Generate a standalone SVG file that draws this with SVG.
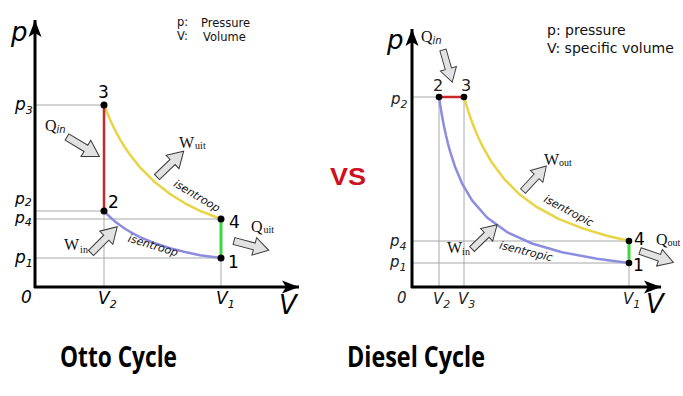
<svg xmlns="http://www.w3.org/2000/svg" xmlns:xlink="http://www.w3.org/1999/xlink" width="683" height="396" viewBox="0 0 683 396">
<style>
.ax{stroke:#000;stroke-width:3;fill:none}
.grid{stroke:#a8a8a8;stroke-width:1;fill:none}
.red{stroke:#c8282a;stroke-width:2.5;fill:none}
.grn{stroke:#3ed83e;stroke-width:3;fill:none}
.yel{stroke:#e8d444;stroke-width:2.5;fill:none;stroke-linejoin:round}
.blu{stroke:#8c8ce0;stroke-width:2.5;fill:none;stroke-linejoin:round}
.dot{fill:#000}
.big{font-family:"DejaVu Sans",sans-serif;font-style:italic;font-size:26px;fill:#000}
.tk{font-family:"DejaVu Sans",sans-serif;font-style:italic;font-size:17px;fill:#000}
.tks{font-family:"DejaVu Sans",sans-serif;font-style:italic;font-size:15.5px;fill:#000}
.tkd{font-family:"DejaVu Sans",sans-serif;font-style:italic;font-size:15px;fill:#222}
.sub{font-size:11px}
.num{font-family:"DejaVu Sans",sans-serif;font-size:17px;fill:#000}
.numd{font-family:"DejaVu Sans",sans-serif;font-size:16px;fill:#222}
.wq{font-family:"Liberation Serif",serif;font-size:16px;fill:#111}
.ws{font-family:"Liberation Serif",serif;font-size:10px}
.wsi{font-family:"DejaVu Sans",sans-serif;font-style:italic;font-size:10px}
.ise{font-family:"DejaVu Sans",sans-serif;font-style:italic;font-size:11px;fill:#111}
.leg{font-family:"DejaVu Sans",sans-serif;font-size:11.5px;fill:#111}
.legd{font-family:"DejaVu Sans",sans-serif;font-size:14px;fill:#111}
.title{font-family:"Open Sans","Liberation Sans",sans-serif;font-weight:bold;font-size:29px;fill:#000}
.vs{font-family:"Liberation Sans",sans-serif;font-weight:bold;font-size:23px;fill:#d01020}
.harr{fill:#e2e2e2;stroke:#3a3a3a;stroke-width:1;stroke-linejoin:miter}
</style>
<defs>
<marker id="axh" markerUnits="userSpaceOnUse" markerWidth="20" markerHeight="16" viewBox="-18 -8 20 16" refX="0" refY="0" orient="auto">
<path d="M0,0 L-17,-6.5 L-13,0 L-17,6.5 Z" fill="#000"/>
</marker>
<path id="harrow" d="M0,-3.5 H21 V-9 L36,0 L21,9 V3.5 H0 Z"/>
</defs>
<rect width="683" height="396" fill="#fff"/>

<g id="otto">
<g id="otto-grid">
<path class="grid" d="M35,105H104 M35,211H104 M35,219H221 M35,258H221 M104,211V287 M221,258V287"/>
</g>
<g id="otto-curves">
<polyline class="yel" points="104,105 107,112.6 111,121.8 115,130 120,139.3 125,147.5 130,154.8 140,167.4 155,182.3 170,194 185,203.3 200,210.9 221,219"/>
<polyline class="blu" points="104,211 107,214.2 111,218 115,221.4 120,225.3 125,228.7 130,231.8 140,237.1 155,243.3 170,248.2 185,252 200,255.2 221,258"/>
<line class="red" x1="104" y1="105" x2="104" y2="211"/>
<line class="grn" x1="221" y1="219" x2="221" y2="258"/>
</g>
<g id="otto-axes">
<line class="ax" x1="35" y1="288" x2="35" y2="20" marker-end="url(#axh)"/>
<line class="ax" x1="34" y1="287" x2="299" y2="287" marker-end="url(#axh)"/>
</g>
<g id="otto-points">
<circle class="dot" cx="104" cy="105" r="3.5"/>
<circle class="dot" cx="104" cy="211" r="3.5"/>
<circle class="dot" cx="221" cy="219" r="3.5"/>
<circle class="dot" cx="221" cy="258" r="3.5"/>
</g>
<g id="otto-arrows">
<use xlink:href="#harrow" class="harr" transform="translate(67,137) rotate(31) scale(1.05)"/>
<use xlink:href="#harrow" class="harr" transform="translate(157,177) rotate(-44) scale(1.03)"/>
<use xlink:href="#harrow" class="harr" transform="translate(91,253) rotate(-45) scale(1.03)"/>
<use xlink:href="#harrow" class="harr" transform="translate(234,241) rotate(15) scale(1)"/>
</g>
<g id="otto-labels">
<text class="big" x="11" y="41">p</text>
<text class="tk" x="15" y="110">p<tspan class="sub" dy="4">3</tspan></text>
<text class="tks" x="15" y="204">p<tspan class="sub" dy="2">2</tspan></text>
<text class="tks" x="15" y="223">p<tspan class="sub" dy="3">4</tspan></text>
<text class="tk" x="15" y="263">p<tspan class="sub" dy="4">1</tspan></text>
<text class="tk" x="21" y="303">0</text>
<text class="tk" x="98" y="304">V<tspan class="sub" dy="4">2</tspan></text>
<text class="tk" x="216" y="304">V<tspan class="sub" dy="4">1</tspan></text>
<text class="big" x="279" y="314">V</text>
<text class="num" x="98" y="98">3</text>
<text class="num" x="108" y="208">2</text>
<text class="num" x="229" y="228">4</text>
<text class="num" x="228" y="268">1</text>
<text class="wq" x="45" y="131">Q<tspan class="wsi" dy="2">in</tspan></text>
<text class="wq" x="179" y="148">W<tspan class="ws" dx="1" dy="1">uit</tspan></text>
<text class="wq" x="64" y="250">W<tspan class="ws" dx="1" dy="3">in</tspan></text>
<text class="wq" x="251" y="232">Q<tspan class="ws" dx="1" dy="1">uit</tspan></text>
<text class="ise" transform="translate(195,199) rotate(31)" text-anchor="middle">isentroop</text>
<text class="ise" transform="translate(152,249) rotate(17)" text-anchor="middle">isentroop</text>
<text class="leg" x="177" y="26">p:</text>
<text class="leg" x="201" y="27">Pressure</text>
<text class="leg" x="177" y="40">V:</text>
<text class="leg" x="203" y="41">Volume</text>
</g>
</g>

<g id="versus">
<text class="vs" x="330" y="185" textLength="36" lengthAdjust="spacingAndGlyphs">VS</text>
</g>

<g id="diesel">
<g id="diesel-grid">
<path class="grid" d="M412,97H439 M412,241H629 M412,263H629 M439,97V287 M464,97V287 M629,263V287"/>
</g>
<g id="diesel-curves">
<polyline class="blu" points="439,97 440.5,106.8 442,115.7 444,126.2 446,135.5 448,143.8 450,151.2 455,166.7 462,183.3 472,200.4 487,217.5 507,232.1 532,243.5 562,252.2 597,258.8 629,263"/>
<polyline class="yel" points="464,97 466,103.9 468,110.4 471,119.3 474,127.3 478,136.8 482,145.3 492,162.8 504,178.8 519,193.9 537,207.2 559,219.1 584,228.9 607,235.8 629,241"/>
<line class="red" x1="439" y1="97" x2="464" y2="97"/>
<line class="grn" x1="629" y1="241" x2="629" y2="263"/>
</g>
<g id="diesel-axes">
<line class="ax" x1="412" y1="288" x2="412" y2="29" marker-end="url(#axh)"/>
<line class="ax" x1="411" y1="287" x2="661" y2="287" marker-end="url(#axh)"/>
</g>
<g id="diesel-points">
<circle class="dot" cx="439" cy="97" r="3.3"/>
<circle class="dot" cx="464" cy="97" r="3.3"/>
<circle class="dot" cx="629" cy="241" r="3.3"/>
<circle class="dot" cx="629" cy="263" r="3.3"/>
</g>
<g id="diesel-arrows">
<use xlink:href="#harrow" class="harr" transform="translate(443,50) rotate(74) scale(0.93)"/>
<use xlink:href="#harrow" class="harr" transform="translate(523,191) rotate(-47) scale(0.95)"/>
<use xlink:href="#harrow" class="harr" transform="translate(472,249) rotate(-44) scale(0.97)"/>
<use xlink:href="#harrow" class="harr" transform="translate(640,251) rotate(19) scale(0.98)"/>
</g>
<g id="diesel-labels">
<text class="big" x="387" y="49">p</text>
<text class="tkd" x="391" y="104">p<tspan class="sub" dy="4">2</tspan></text>
<text class="tkd" x="390" y="246">p<tspan class="sub" dy="4">4</tspan></text>
<text class="tkd" x="390" y="267">p<tspan class="sub" dy="4">1</tspan></text>
<text class="tkd" x="397" y="303">0</text>
<text class="tkd" x="433" y="304">V<tspan class="sub" dy="4">2</tspan></text>
<text class="tkd" x="458" y="304">V<tspan class="sub" dy="4">3</tspan></text>
<text class="tkd" x="623" y="304">V<tspan class="sub" dy="4">1</tspan></text>
<text class="big" x="646" y="313">V</text>
<text class="numd" x="433" y="91">2</text>
<text class="numd" x="461" y="91">3</text>
<text class="num" x="634" y="245">4</text>
<text class="num" x="633" y="271">1</text>
<text class="wq" x="421" y="42">Q<tspan class="wsi" dy="2">in</tspan></text>
<text class="wq" x="544" y="165">W<tspan class="ws" dx="0" dy="1">out</tspan></text>
<text class="wq" x="447" y="253">W<tspan class="ws" dx="0" dy="2">in</tspan></text>
<text class="wq" x="656" y="245">Q<tspan class="ws" dx="0" dy="1">out</tspan></text>
<text class="ise" transform="translate(567,214) rotate(28)" text-anchor="middle">isentropic</text>
<text class="ise" transform="translate(525,255) rotate(14)" text-anchor="middle">isentropic</text>
<text class="legd" x="547" y="35">p: pressure</text>
<text class="legd" x="547" y="53">V: specific volume</text>
</g>
</g>

<g id="titles">
<text class="title" x="60" y="367" textLength="117" lengthAdjust="spacingAndGlyphs">Otto Cycle</text>
<text class="title" x="347" y="367" textLength="138" lengthAdjust="spacingAndGlyphs">Diesel Cycle</text>
</g>
</svg>
